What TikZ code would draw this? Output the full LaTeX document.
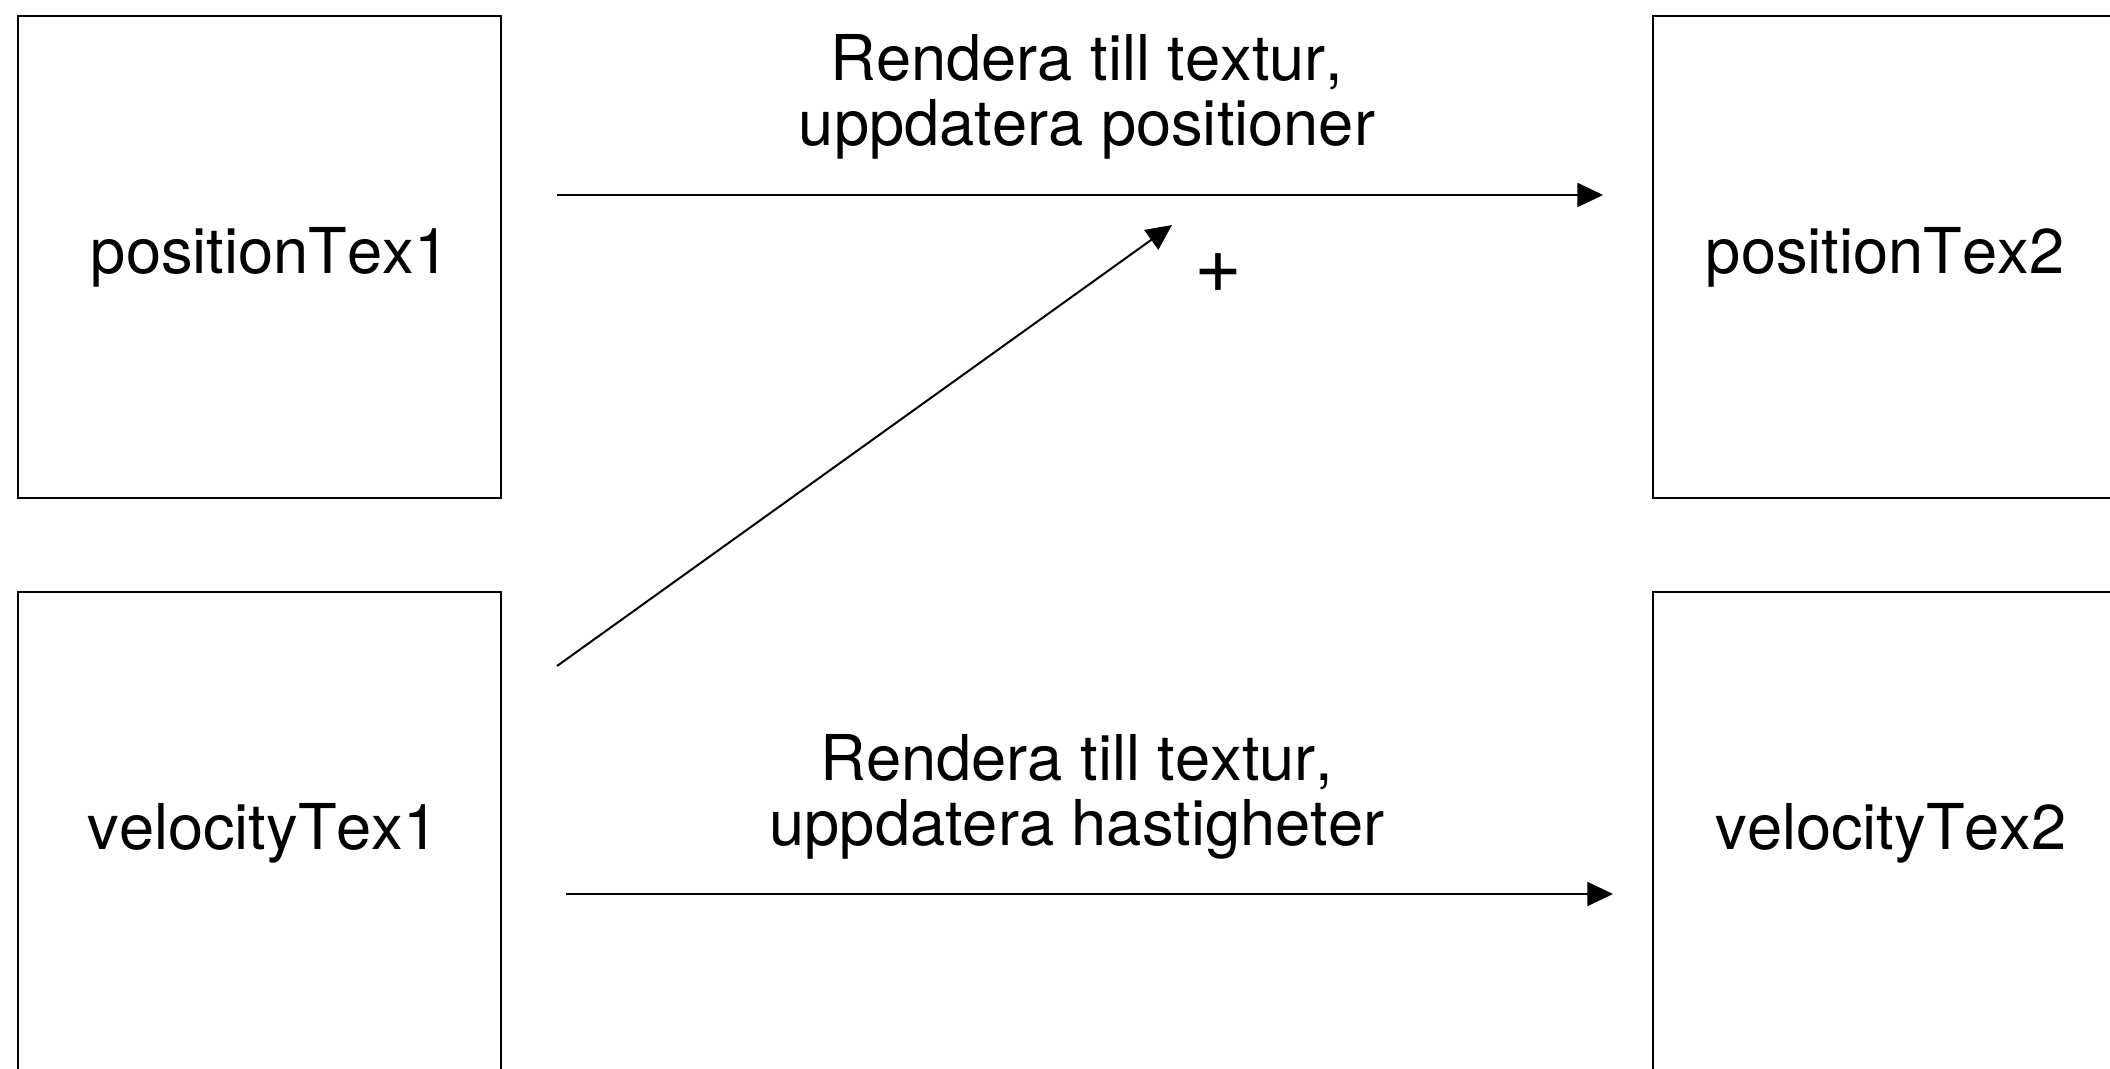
\documentclass[tikz,border=0pt]{standalone}
\usepackage{fontspec}
\setmainfont[Kerning=Off]{TeX Gyre Heros}
\usetikzlibrary{arrows.meta}
\begin{document}
\begin{tikzpicture}[x=0.5pt,y=-0.5pt,
  tex/.style={draw=black,line width=1pt,minimum width=241.5pt,minimum height=241pt,inner sep=0pt,font=\fontsize{31.6}{32.3}\selectfont},
  lbl/.style={align=center,inner sep=0pt,font=\fontsize{31.6}{32.3}\selectfont},
  conn/.style={line width=1pt,-{Triangle[length=12.8pt,width=12pt]}}]
\useasboundingbox (0,0) rectangle (2110,1069);
\node[tex] (p1) at (259,257) {\hspace{11pt}positionTex1};
\node[tex] (v1) at (259,833) {\hspace{4pt}velocityTex1};
\node[tex] (p2) at (1894,257) {positionTex2\kern9pt};
\node[tex] (v2) at (1894,833) {velocityTex2\kern3pt};
\coordinate (a1s) at (557,195);
\coordinate (a1e) at (1603,195);
\coordinate (a2s) at (557,666);
\coordinate (a2e) at (1172,225);
\coordinate (a3s) at (566,894);
\coordinate (a3e) at (1613,894);
\draw[conn] (a1s) -- (a1e);
\draw[conn] (a2s) -- (a2e);
\draw[conn] (a3s) -- (a3e);
\node[lbl] (t1) at (1087,97) {Rendera till textur,\\uppdatera positioner};
\node[lbl] (t2) at (1077,797) {Rendera till textur,\\uppdatera hastigheter};
\node[lbl,font=\fontsize{41}{44}\selectfont] (plus) at (1218,273) {+};
\end{tikzpicture}
\end{document}
